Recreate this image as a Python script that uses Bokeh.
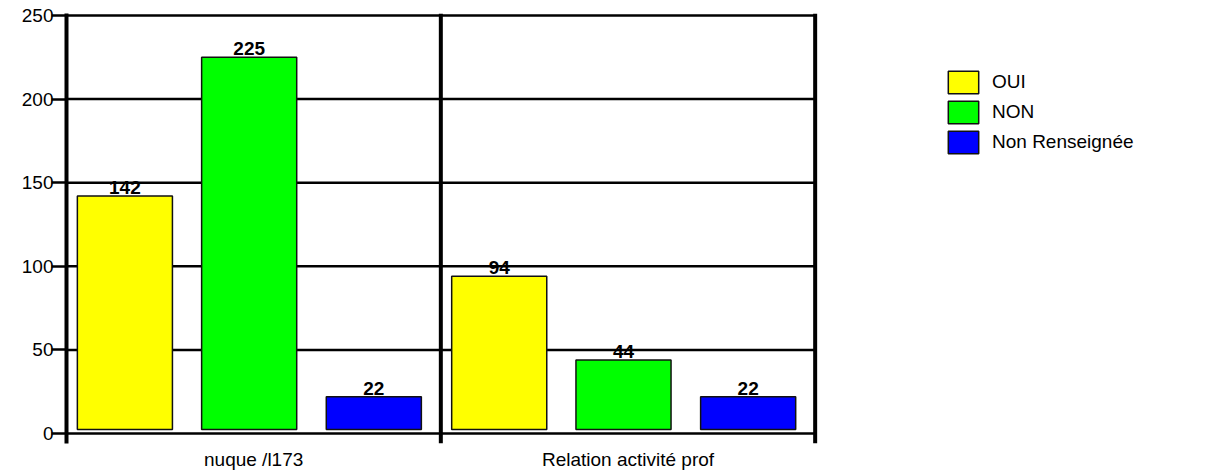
from bokeh.plotting import figure
from bokeh.models import Range1d, FixedTicker, Span, Legend, LegendItem, ColumnDataSource
from bokeh.core.properties import value
from bokeh.embed import file_html
from bokeh.resources import INLINE

# ---- data ----
categories = ["nuque /l173", "Relation activité prof"]
series = ["OUI", "NON", "Non Renseignée"]
oui = [142, 94]
non = [225, 44]
non_renseignee = [22, 22]
y_ticks = [0, 50, 100, 150, 200, 250]

# ---- styles / layout ----
colors = ["#FFFF00", "#00FF00", "#0000FF"]
offsets = [0.156, 0.488, 0.821]
bar_width = 0.254
bar_base = 2.4
FONT = "Liberation Sans"
FS = "19px"
n_groups = len(categories)
# the frame extends to the right edge so that the legend can sit in it;
# the plotted area covers x in [0, n_groups]
x_end = n_groups * (1200 - 67) / 748

p = figure(width=1200, height=472, output_backend="svg", toolbar_location=None,
           x_range=Range1d(0, x_end), y_range=Range1d(-6, 251.2),
           min_border_left=66, min_border_right=0, min_border_top=13, min_border_bottom=29)
p.background_fill_color = "white"
p.border_fill_color = "white"
p.outline_line_color = None
p.xgrid.visible = False
p.ygrid.visible = False

# horizontal grid lines limited to the plotted area
p.segment(x0=[0] * len(y_ticks), x1=[n_groups] * len(y_ticks), y0=y_ticks, y1=y_ticks,
          line_color="black", line_width=2.5)

# y axis
p.yaxis.ticker = FixedTicker(ticks=y_ticks)
p.yaxis.axis_line_width = 4
p.yaxis.axis_line_color = "black"
p.yaxis.major_tick_out = 15
p.yaxis.major_tick_in = 0
p.yaxis.major_tick_line_width = 2.5
p.yaxis.minor_tick_line_color = None
p.yaxis.major_label_standoff = -2
p.yaxis.major_label_text_font = FONT
p.yaxis.major_label_text_font_size = FS
p.yaxis.major_label_text_color = "black"

# x axis
cat_pos = [i + 0.5 for i in range(n_groups)]
p.xaxis.ticker = FixedTicker(ticks=cat_pos)
p.xaxis.major_label_overrides = {pos: c for pos, c in zip(cat_pos, categories)}
p.xaxis.axis_line_color = None
p.xaxis.major_tick_line_color = None
p.xaxis.major_tick_out = 0
p.xaxis.major_tick_in = 0
p.xaxis.minor_tick_line_color = None
p.xaxis.minor_tick_out = 0
p.xaxis.major_label_standoff = 5
p.xaxis.major_label_text_font = FONT
p.xaxis.major_label_text_font_size = FS
p.xaxis.major_label_text_color = "black"

# group separators and right border
for loc in range(1, n_groups + 1):
    p.add_layout(Span(location=loc, dimension="height", line_color="black", line_width=4))

items = []
for i, (name, vals) in enumerate(zip(series, [oui, non, non_renseignee])):
    xs = [g + offsets[i] for g in range(n_groups)]
    src = ColumnDataSource(dict(x=xs, top=vals, bottom=[bar_base] * len(vals),
                                label=[str(v) for v in vals]))
    r = p.vbar(x="x", top="top", bottom="bottom", width=bar_width, source=src,
               fill_color=colors[i], line_color="#111111", line_width=1.5)
    p.text(x="x", y="top", text="label", source=src, text_align="center",
           text_baseline="bottom", y_offset=-2, text_font=value(FONT),
           text_font_style="bold", text_font_size=FS, text_color="black")
    items.append(LegendItem(label=name, renderers=[r]))

legend = Legend(items=items, location=(878, 287), glyph_width=38, glyph_height=28,
                label_height=28, spacing=2, padding=0, margin=0, label_standoff=10,
                border_line_color=None, background_fill_alpha=0,
                label_text_font=FONT, label_text_font_size=FS, label_text_color="black")
p.add_layout(legend)

open("out.html", "w").write(file_html(p, INLINE))
